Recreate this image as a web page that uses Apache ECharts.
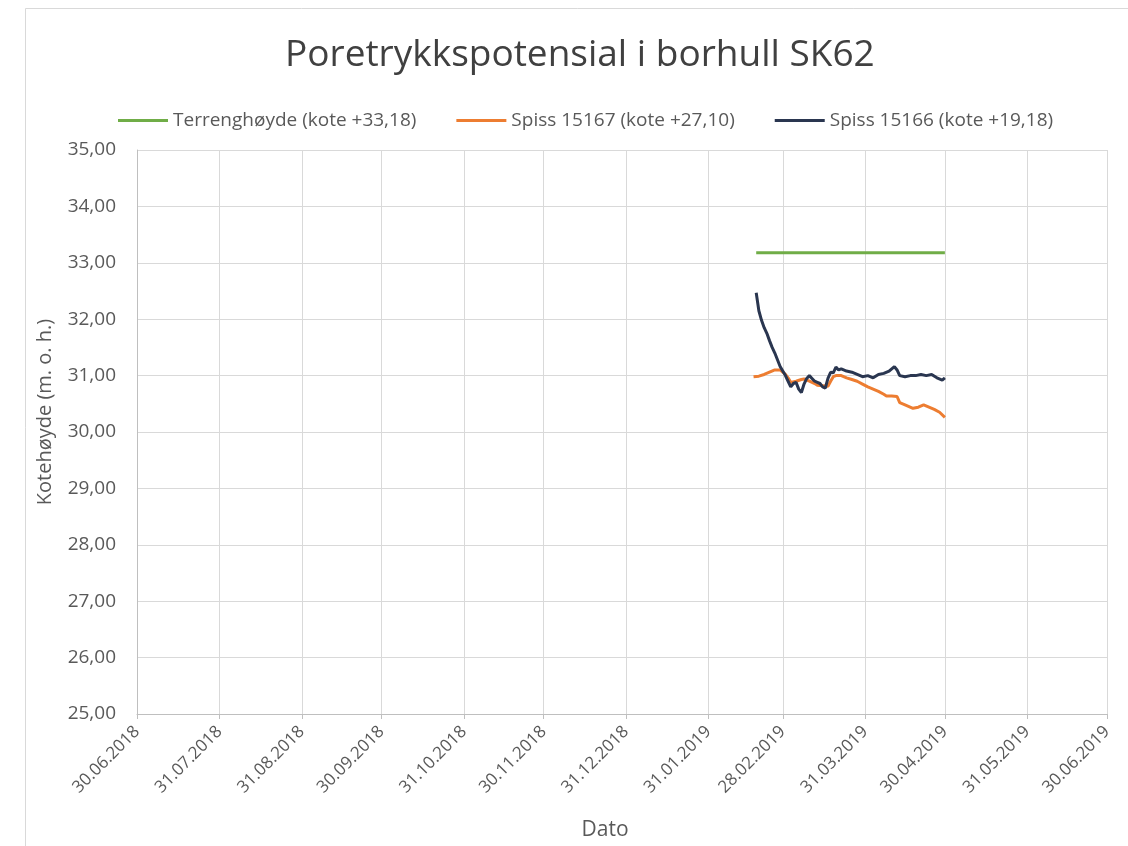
<!DOCTYPE html>
<html>

<head>
    <meta charset="utf-8">
    <title>Poretrykkspotensial SK62</title>
    <style>
        html, body { margin: 0; padding: 0; background: #fff; }
        #chart-container { width: 1128px; height: 846px; }
    </style>
    <script src="https://cdn.jsdelivr.net/npm/echarts@6.0.0/dist/echarts.min.js"></script>
</head>

<body>
    <div id="chart-container"></div>
    <script>
        // x-akse: månedsslutt
        const tickDates = ['2018-06-30', '2018-07-31', '2018-08-31', '2018-09-30', '2018-10-31', '2018-11-30',
            '2018-12-31', '2019-01-31', '2019-02-28', '2019-03-31', '2019-04-30', '2019-05-31', '2019-06-30'];

        // Terrenghøyde
        const terrengDates = ['2019-02-18', '2019-04-30'];
        const terrengValues = [33.18, 33.18];

        // Spiss 15167
        const spiss15167Dates = ['2019-02-17', '2019-02-19', '2019-02-21', '2019-02-23', '2019-02-25', '2019-02-27',
            '2019-02-28', '2019-03-01', '2019-03-02', '2019-03-03', '2019-03-05', '2019-03-07', '2019-03-08',
            '2019-03-10', '2019-03-12', '2019-03-13', '2019-03-15', '2019-03-17', '2019-03-18', '2019-03-19',
            '2019-03-20', '2019-03-22', '2019-03-24', '2019-03-26', '2019-03-28', '2019-03-30', '2019-04-01',
            '2019-04-03', '2019-04-05', '2019-04-07', '2019-04-08', '2019-04-10', '2019-04-12', '2019-04-13',
            '2019-04-15', '2019-04-18', '2019-04-20', '2019-04-22', '2019-04-24', '2019-04-26', '2019-04-28',
            '2019-04-30'];
        const spiss15167Values = [30.98, 30.99, 31.02, 31.06, 31.10, 31.10,
            31.06, 31.02, 30.96, 30.88, 30.90, 30.93, 30.94,
            30.90, 30.86, 30.83, 30.82, 30.81, 30.90, 30.98,
            31.00, 31.00, 30.96, 30.93, 30.90, 30.85, 30.80,
            30.76, 30.72, 30.67, 30.64, 30.64, 30.63, 30.52,
            30.48, 30.42, 30.44, 30.48, 30.44, 30.40, 30.35,
            30.26];

        // Spiss 15166
        const spiss15166Dates = ['2019-02-18', '2019-02-19', '2019-02-20', '2019-02-21', '2019-02-22', '2019-02-23',
            '2019-02-24', '2019-02-25', '2019-02-26', '2019-02-27', '2019-02-28', '2019-03-01', '2019-03-02',
            '2019-03-03', '2019-03-04', '2019-03-05', '2019-03-06', '2019-03-07', '2019-03-08', '2019-03-09',
            '2019-03-10', '2019-03-11', '2019-03-12', '2019-03-13', '2019-03-14', '2019-03-15', '2019-03-16',
            '2019-03-17', '2019-03-18', '2019-03-19', '2019-03-20', '2019-03-21', '2019-03-22', '2019-03-24',
            '2019-03-26', '2019-03-28', '2019-03-30', '2019-04-01', '2019-04-03', '2019-04-05', '2019-04-07',
            '2019-04-09', '2019-04-11', '2019-04-12', '2019-04-13', '2019-04-15', '2019-04-17', '2019-04-19',
            '2019-04-21', '2019-04-23', '2019-04-25', '2019-04-27', '2019-04-29', '2019-04-30'];
        const spiss15166Values = [32.47, 32.15, 31.98, 31.85, 31.75, 31.62,
            31.50, 31.40, 31.28, 31.16, 31.08, 31.00, 30.90,
            30.80, 30.86, 30.88, 30.76, 30.70, 30.85, 30.95,
            31.00, 30.95, 30.90, 30.88, 30.86, 30.80, 30.78,
            30.95, 31.06, 31.05, 31.15, 31.10, 31.12, 31.08,
            31.06, 31.02, 30.98, 31.00, 30.96, 31.02, 31.04,
            31.08, 31.16, 31.10, 31.00, 30.98, 31.00, 31.00,
            31.02, 31.00, 31.02, 30.96, 30.92, 30.96];

        // dager etter 30.06.2018
        const day0 = Date.UTC(2018, 5, 30);
        function toDay(s) {
            const p = s.split('-');
            return Math.round((Date.UTC(+p[0], +p[1] - 1, +p[2]) - day0) / 86400000);
        }
        function pairs(dates, values) {
            return dates.map((d, i) => [toDay(d), values[i]]);
        }
        function pad(n) { return (n < 10 ? '0' : '') + n; }

        const tickDays = tickDates.map(toDay);

        var dom = document.getElementById('chart-container');
        var myChart = echarts.init(dom, null, { renderer: 'canvas' });

        const font = '"Open Sans", "DejaVu Sans", sans-serif';

        var option = {
            backgroundColor: '#fff',
            textStyle: { fontFamily: font },
            graphic: [{
                type: 'rect',
                shape: { x: 25.5, y: 8.5, width: 1120, height: 860 },
                style: { fill: 'none', stroke: '#d9d9d9', lineWidth: 1 },
                silent: true
            }],
            title: {
                text: 'Poretrykkspotensial i borhull SK62',
                left: 280,
                top: 32,
                textStyle: { fontFamily: font, fontSize: 37, fontWeight: 'normal', color: '#404040' }
            },
            legend: {
                top: 106,
                left: 113,
                icon: 'rect',
                itemWidth: 50,
                itemHeight: 3,
                itemGap: 40,
                textStyle: { fontFamily: font, fontSize: 19, color: '#595959' },
                data: ['Terrenghøyde (kote +33,18)', 'Spiss 15167 (kote +27,10)', 'Spiss 15166 (kote +19,18)']
            },
            grid: {
                left: 137,
                right: 21,
                top: 150,
                bottom: 130,
                containLabel: false
            },
            xAxis: {
                type: 'value',
                min: tickDays[0],
                max: tickDays[tickDays.length - 1],
                name: 'Dato',
                nameLocation: 'middle',
                nameGap: 106,
                nameTextStyle: { fontFamily: font, fontSize: 21, color: '#595959', padding: [0, 34, 0, 0] },
                axisLine: { show: true, lineStyle: { color: '#bfbfbf', width: 1 } },
                axisTick: { show: true, length: 5, customValues: tickDays, lineStyle: { color: '#bfbfbf' } },
                axisLabel: {
                    customValues: tickDays,
                    rotate: 45,
                    margin: 15,
                    fontFamily: font,
                    fontSize: 17,
                    color: '#595959',
                    formatter: function (v) {
                        const d = new Date(day0 + v * 86400000);
                        return pad(d.getUTCDate()) + '.' + pad(d.getUTCMonth() + 1) + '.' + d.getUTCFullYear();
                    }
                },
                splitLine: { show: true, lineStyle: { color: '#d9d9d9', width: 1 } }
            },
            yAxis: {
                type: 'value',
                min: 25,
                max: 35,
                interval: 1,
                name: 'Kotehøyde (m. o. h.)',
                nameLocation: 'middle',
                nameGap: 82,
                nameRotate: 90,
                nameTextStyle: { fontFamily: font, fontSize: 20, color: '#595959', padding: [0, 0, 0, 40] },
                axisLine: { show: true, lineStyle: { color: '#bfbfbf', width: 1 } },
                axisTick: { show: false },
                axisLabel: {
                    margin: 21,
                    fontFamily: font,
                    fontSize: 19,
                    color: '#595959',
                    formatter: function (v) { return v.toFixed(2).replace('.', ','); }
                },
                splitLine: { show: true, lineStyle: { color: '#d9d9d9', width: 1 } }
            },
            series: [
                {
                    name: 'Terrenghøyde (kote +33,18)',
                    type: 'line',
                    symbol: 'none',
                    data: pairs(terrengDates, terrengValues),
                    lineStyle: { color: '#70ad47', width: 3 },
                    itemStyle: { color: '#70ad47' }
                },
                {
                    name: 'Spiss 15167 (kote +27,10)',
                    type: 'line',
                    symbol: 'none',
                    data: pairs(spiss15167Dates, spiss15167Values),
                    lineStyle: { color: '#ed7d31', width: 3 },
                    itemStyle: { color: '#ed7d31' }
                },
                {
                    name: 'Spiss 15166 (kote +19,18)',
                    type: 'line',
                    symbol: 'none',
                    data: pairs(spiss15166Dates, spiss15166Values),
                    lineStyle: { color: '#2a3650', width: 3 },
                    itemStyle: { color: '#2a3650' }
                }
            ]
        };

        myChart.setOption(option);
        window.addEventListener('resize', myChart.resize);
    </script>
</body>

</html>
